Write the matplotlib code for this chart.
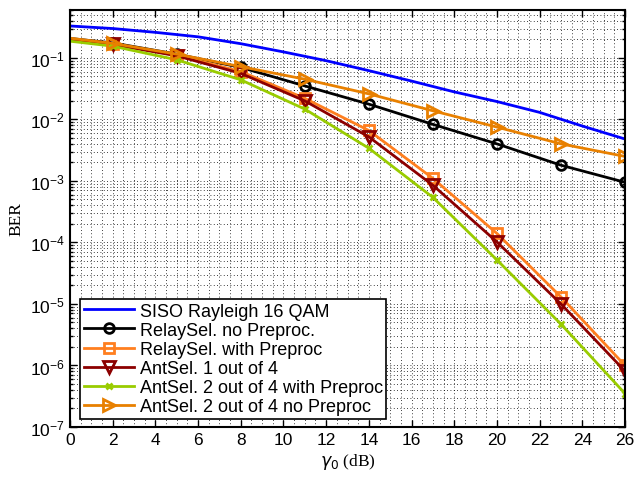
import matplotlib
matplotlib.use("Agg")
import matplotlib.pyplot as plt
from matplotlib.ticker import MultipleLocator, LogLocator, NullFormatter

# SNR points (dB)
snr_siso = [0, 2, 4, 6, 8, 10, 12, 14, 16, 18, 20, 22, 24, 26]
snr = [-1, 2, 5, 8, 11, 14, 17, 20, 23, 26]

# BER values
ber_siso = [0.33, 0.30, 0.26, 0.22, 0.17, 0.125, 0.09, 0.062, 0.042, 0.028,
            0.0195, 0.013, 0.0078, 0.0048]
ber_relay_nopre = [0.225, 0.175, 0.115, 0.07, 0.035, 0.0177, 0.0083, 0.0040, 0.0018, 0.00095]
ber_relay_pre = [0.225, 0.17, 0.11, 0.06, 0.022, 0.0066, 0.0011, 1.4e-4, 1.3e-5, 1.0e-6]
ber_ant1 = [0.22, 0.165, 0.108, 0.056, 0.020, 0.0052, 8.5e-4, 1.02e-4, 1.0e-5, 8.1e-7]
ber_ant2_pre = [0.205, 0.155, 0.093, 0.044, 0.0147, 0.0034, 5.4e-4, 5.2e-5, 4.7e-6, 3.5e-7]
ber_ant2_nopre = [0.23, 0.172, 0.115, 0.072, 0.045, 0.026, 0.0138, 0.0075, 0.0040, 0.0025]

labels = ["SISO Rayleigh 16 QAM", "RelaySel. no Preproc.", "RelaySel. with Preproc",
          "AntSel. 1 out of 4", "AntSel. 2 out of 4 with Preproc", "AntSel. 2 out of 4 no Preproc"]

# axes box in pixels (left, top, right, bottom)
L, T, R, B = 70, 11, 625, 428

fig = plt.figure(figsize=(6.35, 4.89), dpi=100)
ax = fig.add_axes([L / 635, 1 - B / 489, (R - L) / 635, (B - T) / 489])

lw = 2
ax.semilogy(snr_siso, ber_siso, color=(0, 0, 1), lw=lw, label=labels[0])
ax.semilogy(snr, ber_relay_nopre, color="black", lw=lw, marker="o", ms=7,
            mfc="none", mew=2, label=labels[1])
ax.semilogy(snr, ber_relay_pre, color="#ff7f1f", lw=lw, marker="s", ms=6.5,
            mfc="none", mew=2, label=labels[2])
ax.semilogy(snr, ber_ant1, color="#8c0000", lw=lw, marker="v", ms=8,
            mfc="none", mew=2, label=labels[3])
ax.semilogy(snr, ber_ant2_pre, color="#99cc00", lw=lw, marker="x", ms=5,
            mew=2, label=labels[4])
ax.semilogy(snr, ber_ant2_nopre, color="#e88000", lw=lw, marker=">", ms=8,
            mfc="none", mew=2, label=labels[5])

ax.set_xlim(0, 26)
ax.set_ylim(1e-7, 0.6)
ax.xaxis.set_major_locator(MultipleLocator(2))
ax.xaxis.set_minor_locator(MultipleLocator(0.5))
ax.xaxis.set_minor_formatter(NullFormatter())
ax.yaxis.set_major_locator(LogLocator(base=10, numticks=20))
ax.yaxis.set_minor_locator(LogLocator(base=10, subs=range(2, 10), numticks=20))
ax.yaxis.set_minor_formatter(NullFormatter())

gs = dict(color="black", lw=0.6, linestyle=(0, (1, 3)))
ax.grid(True, which="major", **gs)
ax.grid(True, which="minor", **gs)
ax.set_axisbelow(True)

ax.tick_params(which="both", direction="in", top=True, right=True,
               labelsize=12.5, width=1)
ax.tick_params(which="major", length=5)
ax.tick_params(axis="y", which="minor", length=2.5)
ax.tick_params(axis="x", which="minor", length=0)
for lab in ax.get_xticklabels() + ax.get_yticklabels():
    lab.set_fontfamily("Liberation Sans")
for sp in ax.spines.values():
    sp.set_linewidth(1.5)

ax.set_xlabel(r"$\gamma_0$ (dB)", fontfamily="Liberation Serif", fontsize=12.5, labelpad=3)
ax.set_ylabel("BER", fontfamily="Liberation Serif", fontsize=12.5)

leg = ax.legend(loc="upper left", bbox_to_anchor=(10 / (R - L), (B - 300) / (B - T)),
                borderaxespad=0, fancybox=False, framealpha=1, edgecolor="black",
                handlelength=2.8, handletextpad=0.3, labelspacing=0.12, borderpad=0.2,
                prop={"family": "Liberation Sans", "size": 13})
leg.get_frame().set_linewidth(1.2)

fig.savefig("out.png", dpi=100)
